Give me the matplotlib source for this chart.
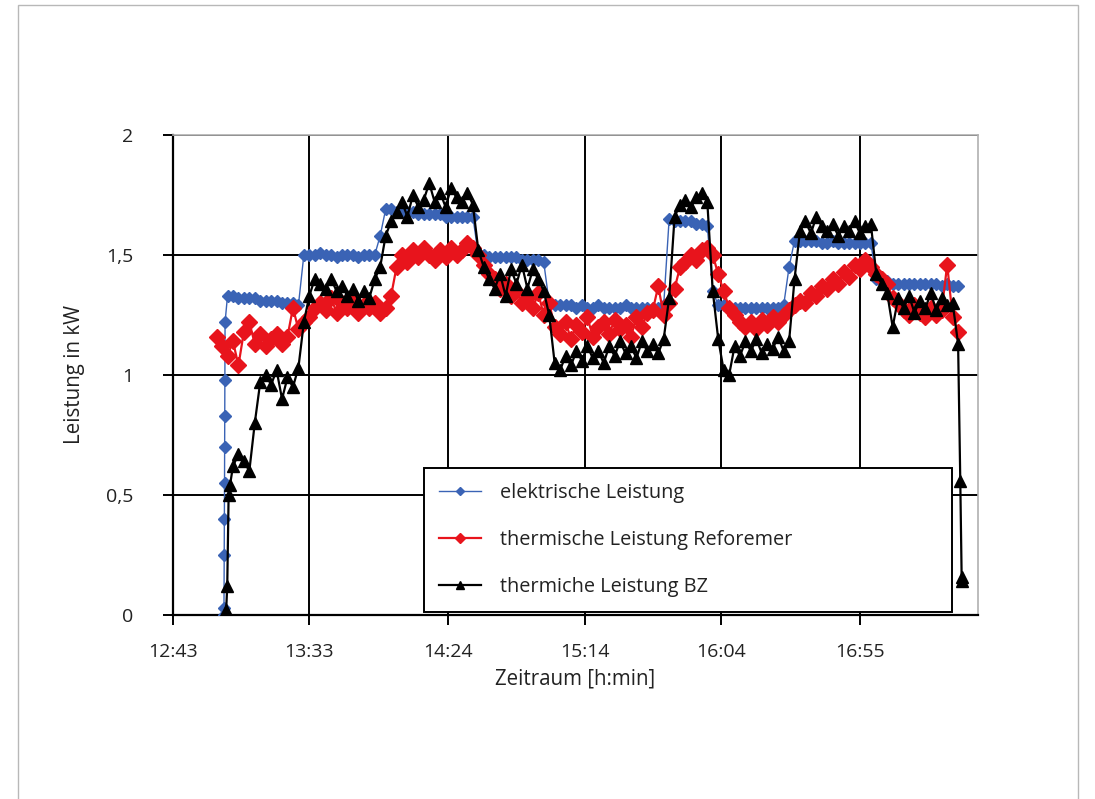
import numpy as np
import matplotlib
matplotlib.use("Agg")
import matplotlib.pyplot as plt
from matplotlib.patches import Rectangle

plt.rcParams['font.family'] = ['Open Sans', 'DejaVu Sans']

# ---------------- data ----------------
# main sampling grid: minutes after 12:43 (every 2 min, 16 ... 288)
t_grid = np.arange(16, 289, 2)

nan = np.nan
elektrisch = (
    [nan, nan] +
    [1.33, 1.33, 1.32, 1.32, 1.32, 1.32, 1.31, 1.31, 1.31, 1.31, 1.30, 1.30, 1.30, 1.29] +
    [1.50, 1.50, 1.50, 1.51, 1.50, 1.50, 1.49, 1.50, 1.50, 1.50, 1.49, 1.50, 1.50, 1.50] + [1.58] +
    [1.69, 1.69, 1.68, 1.68, 1.68, 1.68, 1.67, 1.67, 1.67, 1.67, 1.67, 1.66, 1.66, 1.66, 1.66, 1.66, 1.66] +
    [1.50, 1.50, 1.49, 1.49, 1.49, 1.49, 1.49, 1.49, 1.48, 1.48, 1.48, 1.48, 1.47] +
    [1.30, 1.29, 1.29, 1.29, 1.29, 1.28, 1.29, 1.28, 1.28, 1.29, 1.28, 1.28, 1.28, 1.28, 1.29, 1.28, 1.28, 1.28, 1.28, 1.28, 1.28, 1.29] +
    [1.65, 1.64, 1.64, 1.64, 1.64, 1.63, 1.63, 1.62] + [1.35] +
    [1.29, 1.29, 1.28, 1.28, 1.28, 1.28, 1.28, 1.28, 1.28, 1.28, 1.28, 1.28, 1.29] + [1.45] +
    [1.56, 1.56, 1.56, 1.56, 1.56, 1.55, 1.55, 1.56, 1.55, 1.55, 1.55, 1.55, 1.55, 1.55, 1.55] + [1.40] +
    [1.39, 1.39, 1.38, 1.38, 1.38, 1.38, 1.38, 1.38, 1.38, 1.38, 1.38, 1.37, 1.38, 1.37, 1.37]
)

reformer = (
    [1.16, 1.12, 1.08, 1.14, 1.04, 1.18, 1.22, 1.13, 1.17, 1.12, 1.15, 1.17, 1.13, 1.16, 1.28, 1.19] +
    [1.22, 1.24, 1.28, 1.30, 1.27, 1.32, 1.26, 1.30, 1.28, 1.31, 1.26, 1.29, 1.28, 1.30, 1.26, 1.28, 1.33] +
    [1.45] +
    [1.50, 1.47, 1.52, 1.49, 1.53, 1.50, 1.48, 1.52, 1.49, 1.53, 1.50, 1.52, 1.55] + [1.53] +
    [1.50, 1.46, 1.42, 1.40, 1.36, 1.38, 1.33, 1.35, 1.30, 1.32, 1.28, 1.34, 1.25] + [1.30] +
    [1.20, 1.17, 1.22, 1.15, 1.21, 1.18, 1.24, 1.16, 1.20, 1.22, 1.17, 1.23, 1.19, 1.21, 1.16, 1.24, 1.20, 1.26,
     1.27, 1.37, 1.25] +
    [1.30, 1.36, 1.45, 1.47, 1.50, 1.48, 1.52, 1.53] +
    [1.50, 1.42, 1.35, 1.28, 1.25, 1.22, 1.20, 1.22, 1.19, 1.23, 1.21, 1.24, 1.22, 1.25, 1.27, 1.29, 1.31, 1.30,
     1.34, 1.33, 1.37, 1.36, 1.40, 1.38, 1.43, 1.41, 1.46] +
    [1.44, 1.48, 1.45, 1.42, 1.40, 1.38, 1.32, 1.30, 1.27, 1.25, 1.29, 1.26, 1.24, 1.28, 1.25, 1.27, 1.46, 1.24, 1.18]
)

bz = (
    [nan, nan, nan] +
    [0.62, 0.67, 0.64, 0.60, 0.80, 0.97, 1.00, 0.96, 1.02, 0.90, 0.99, 0.95, 1.03] +
    [1.22, 1.33, 1.40, 1.38, 1.36, 1.40, 1.35, 1.37, 1.33, 1.36, 1.31, 1.35, 1.32, 1.40, 1.45] +
    [1.58, 1.64, 1.68, 1.72, 1.66, 1.75, 1.70, 1.73, 1.80, 1.72, 1.76, 1.70, 1.78, 1.74, 1.72, 1.76, 1.71] +
    [1.52, 1.45, 1.40, 1.36, 1.42, 1.33, 1.44, 1.38, 1.46, 1.36, 1.44, 1.40, 1.35] + [1.25] +
    [1.05, 1.02, 1.08, 1.04, 1.10, 1.06, 1.12, 1.07, 1.10, 1.05, 1.12, 1.08, 1.14, 1.09, 1.12, 1.07, 1.14, 1.10,
     1.13, 1.09, 1.15] +
    [1.32, 1.66, 1.71, 1.73, 1.70, 1.74, 1.76, 1.72] +
    [1.35, 1.15, 1.02, 1.00, 1.12, 1.08, 1.14, 1.10, 1.15, 1.09, 1.13, 1.11, 1.16, 1.10, 1.14, 1.40] +
    [1.60, 1.64, 1.59, 1.66, 1.62, 1.60, 1.63, 1.58, 1.62, 1.60, 1.64, 1.59, 1.62, 1.63] +
    [1.42, 1.38, 1.34, 1.20, 1.32, 1.28, 1.33, 1.26, 1.31, 1.28, 1.34, 1.27, 1.32, 1.29, 1.30, 1.13]
)

# start-up / shut-down samples (denser logging)
el_start_t = [18.6, 18.7, 18.8, 18.85, 18.9, 18.95, 19.0, 19.05, 19.1]
el_start_v = [0.00, 0.03, 0.25, 0.40, 0.55, 0.70, 0.83, 0.98, 1.22]
bz_start_t = [19.2, 19.5, 19.9, 20.4, 20.9]
bz_start_v = [0.00, 0.02, 0.12, 0.50, 0.54]
bz_end_t = [288.8, 289.3, 289.6]
bz_end_v = [0.56, 0.16, 0.14]

tick_labels = ["12:43", "13:33", "14:24", "15:14", "16:04", "16:55"]
y_ticks = [0, 0.5, 1, 1.5, 2]
y_labels = ["0", "0,5", "1", "1,5", "2"]

# ---------------- assemble ----------------
def merge(t1, v1, t2, v2):
    t = np.concatenate([np.asarray(t1, float), np.asarray(t2, float)])
    v = np.concatenate([np.asarray(v1, float), np.asarray(v2, float)])
    o = np.argsort(t, kind="stable")
    t, v = t[o], v[o]
    m = ~np.isnan(v)
    return t[m], v[m]

el_t, el_v = merge(el_start_t, el_start_v, t_grid, elektrisch)
rf_t, rf_v = merge([], [], t_grid, reformer)
bz_t, bz_v = merge(bz_start_t + bz_end_t, bz_start_v + bz_end_v, t_grid, bz)

def to_min(s):
    h, m = s.split(":")
    return (int(h) * 60 + int(m)) - (12 * 60 + 43)

x_ticks = [to_min(s) for s in tick_labels]

# ---------------- figure ----------------
W, H = 1095, 799
fig = plt.figure(figsize=(W / 100, H / 100), dpi=100)
ax = fig.add_axes([173 / W, 1 - 615 / H, (978 - 173) / W, (615 - 135) / H])

blue = "#3a63b5"
red = "#e8141c"
txtc = "#222222"
fs = 14.3

ax.plot(el_t, el_v, color=blue, lw=1.0, marker="D", ms=6, mec=blue, mfc=blue,
        label="elektrische Leistung", zorder=3)
ax.plot(rf_t, rf_v, color=red, lw=1.6, marker="D", ms=8, mec=red, mfc=red,
        label="thermische Leistung Reforemer", zorder=4)
ax.plot(bz_t, bz_v, color="black", lw=1.6, marker="^", ms=9, mec="black", mfc="black",
        label="thermiche Leistung BZ", zorder=5)

ax.set_xlim(0, 295.3)
ax.set_ylim(0, 2)
ax.set_xticks(x_ticks)
ax.set_xticklabels(tick_labels)
ax.set_yticks(y_ticks)
ax.set_yticklabels(y_labels)

ax.grid(True, color="black", lw=1.4, zorder=1)
ax.set_axisbelow(True)
ax.tick_params(axis="both", direction="out", length=7.5, width=1.4, color="black",
               labelsize=14, labelcolor=txtc)
ax.tick_params(axis="y", pad=21)
ax.tick_params(axis="x", pad=13)

for s in ["left", "bottom"]:
    ax.spines[s].set_color("black")
    ax.spines[s].set_linewidth(1.6)
for s in ["top", "right"]:
    ax.spines[s].set_color("#b0b0b0")
    ax.spines[s].set_linewidth(1.2)

ax.set_ylabel("Leistung in kW", fontsize=14.8, color=txtc, labelpad=15)
ax.set_xlabel("Zeitraum [h:min]", fontsize=14.8, color=txtc, labelpad=5)

leg = ax.legend(loc="upper left", bbox_to_anchor=(0.3118, 0.0167, 0.656, 0.2896),
                mode="expand", borderaxespad=0, fontsize=fs, frameon=True,
                fancybox=False, edgecolor="black", framealpha=1, borderpad=0.75,
                labelspacing=1.36, handlelength=2.1, handletextpad=1.0,
                markerscale=0.65)
leg.get_frame().set_linewidth(1.4)
leg.set_zorder(10)
for txt in leg.get_texts():
    txt.set_color(txtc)

# outer light frame of the figure
fig.patches.append(Rectangle((18 / W, -0.01), (1078 - 18) / W, 1 - 5 / H + 0.01,
                             transform=fig.transFigure, fill=False,
                             edgecolor="#b8b8b8", lw=1.0))

fig.savefig("out.png", dpi=100)
